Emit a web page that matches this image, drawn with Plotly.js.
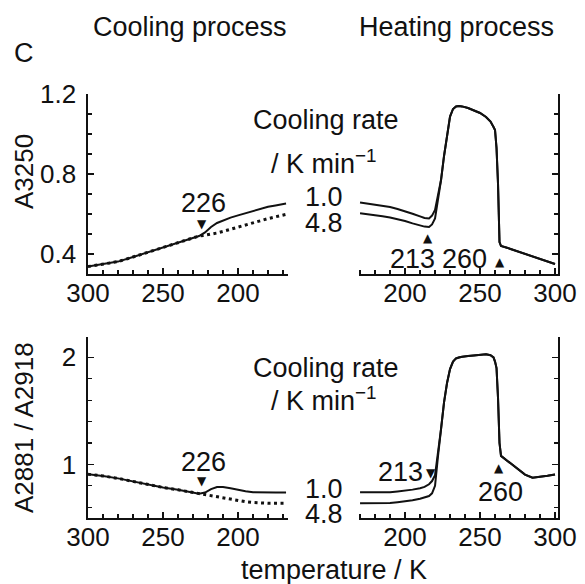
<!DOCTYPE html>
<html>
<head>
<meta charset="utf-8">
<script src="https://cdn.plot.ly/plotly-3.0.1.min.js"></script>
<style>
html,body{margin:0;padding:0;background:#fff;}
#chart{width:585px;height:584px;}
</style>
</head>
<body>
<div id="chart"></div>
<script>
// ---- Data ----
// Cooling process temperatures (K)
const tempCool = [300, 290, 280, 270, 260, 250, 240, 235, 230, 226, 222, 218, 214, 210, 205, 200, 195, 190, 185, 180, 175, 170, 168];
// A3250 during cooling
const a3250Cool_1_0 = [0.337, 0.348, 0.362, 0.385, 0.408, 0.433, 0.457, 0.468, 0.478, 0.490, 0.508, 0.535, 0.555, 0.568, 0.582, 0.593, 0.604, 0.614, 0.625, 0.636, 0.643, 0.649, 0.652];
const a3250Cool_4_8 = [0.337, 0.348, 0.362, 0.385, 0.408, 0.433, 0.457, 0.468, 0.478, 0.490, 0.494, 0.498, 0.505, 0.513, 0.524, 0.535, 0.546, 0.556, 0.566, 0.577, 0.586, 0.595, 0.598];
// A2881/A2918 during cooling
const ratioCool_1_0 = [0.908, 0.893, 0.870, 0.840, 0.810, 0.785, 0.763, 0.750, 0.738, 0.727, 0.738, 0.770, 0.790, 0.790, 0.778, 0.762, 0.750, 0.740, 0.737, 0.737, 0.737, 0.737, 0.737];
const ratioCool_4_8 = [0.908, 0.893, 0.870, 0.840, 0.810, 0.785, 0.763, 0.750, 0.738, 0.727, 0.718, 0.709, 0.698, 0.688, 0.674, 0.663, 0.652, 0.645, 0.640, 0.637, 0.637, 0.637, 0.637];

// Heating process temperatures (K)
const tempHeat = [170, 175, 180, 185, 190, 195, 200, 205, 210, 213, 216, 218, 220, 222, 224, 226, 228, 230, 232, 234, 236, 238, 242, 246, 250, 254, 257, 259, 260, 261, 262, 263, 264, 268, 272, 276, 280, 285, 290, 295, 300];
// A3250 during heating
const a3250Heat_1_0 = [0.657, 0.652, 0.648, 0.643, 0.635, 0.625, 0.614, 0.601, 0.588, 0.580, 0.578, 0.592, 0.620, 0.690, 0.770, 0.890, 0.995, 1.087, 1.125, 1.138, 1.140, 1.138, 1.130, 1.118, 1.105, 1.085, 1.062, 1.035, 1.020, 0.930, 0.750, 0.460, 0.440, 0.431, 0.421, 0.411, 0.401, 0.388, 0.376, 0.363, 0.350];
const a3250Heat_4_8 = [0.604, 0.600, 0.595, 0.589, 0.582, 0.574, 0.565, 0.553, 0.542, 0.537, 0.535, 0.548, 0.578, 0.670, 0.770, 0.890, 0.995, 1.087, 1.125, 1.138, 1.140, 1.138, 1.130, 1.118, 1.105, 1.085, 1.062, 1.035, 1.020, 0.930, 0.750, 0.460, 0.440, 0.431, 0.421, 0.411, 0.401, 0.388, 0.376, 0.363, 0.350];
// A2881/A2918 during heating
const ratioHeat_1_0 = [0.740, 0.740, 0.740, 0.740, 0.741, 0.748, 0.755, 0.765, 0.778, 0.790, 0.815, 0.845, 0.900, 1.100, 1.330, 1.580, 1.760, 1.890, 1.960, 1.990, 2.000, 2.005, 2.012, 2.018, 2.025, 2.028, 2.020, 2.000, 1.960, 1.900, 1.620, 1.200, 1.080, 1.035, 0.993, 0.945, 0.905, 0.877, 0.884, 0.894, 0.906];
const ratioHeat_4_8 = [0.637, 0.637, 0.637, 0.637, 0.640, 0.648, 0.655, 0.665, 0.680, 0.690, 0.705, 0.730, 0.800, 1.080, 1.330, 1.580, 1.760, 1.890, 1.960, 1.990, 2.000, 2.005, 2.012, 2.018, 2.025, 2.028, 2.020, 2.000, 1.960, 1.900, 1.620, 1.200, 1.080, 1.035, 0.993, 0.945, 0.905, 0.877, 0.884, 0.894, 0.906];

// Tick labels
const tempTicks = [200, 250, 300];
const a3250Ticks = [0.4, 0.8, 1.2];
const ratioTicks = [1, 2];

// ---- Layout helpers ----
const W = 585, H = 584;
const px = x => x / W;
const py = y => 1 - y / H;
const ink = '#111111';
const FONT = 'Liberation Sans, Arial, Helvetica, sans-serif';

const solid = {color: ink, width: 2};
const dotted = {color: ink, width: 3, dash: '3px,3.5px'};

const traces = [
  {x: tempCool, y: a3250Cool_1_0, xaxis: 'x', yaxis: 'y', mode: 'lines', line: solid, name: '1.0'},
  {x: tempCool, y: a3250Cool_4_8, xaxis: 'x', yaxis: 'y', mode: 'lines', line: dotted, name: '4.8'},
  {x: tempHeat, y: a3250Heat_1_0, xaxis: 'x2', yaxis: 'y2', mode: 'lines', line: solid, name: '1.0'},
  {x: tempHeat, y: a3250Heat_4_8, xaxis: 'x2', yaxis: 'y2', mode: 'lines', line: solid, name: '4.8'},
  {x: tempCool, y: ratioCool_1_0, xaxis: 'x3', yaxis: 'y3', mode: 'lines', line: solid, name: '1.0'},
  {x: tempCool, y: ratioCool_4_8, xaxis: 'x3', yaxis: 'y3', mode: 'lines', line: dotted, name: '4.8'},
  {x: tempHeat, y: ratioHeat_1_0, xaxis: 'x4', yaxis: 'y4', mode: 'lines', line: solid, name: '1.0'},
  {x: tempHeat, y: ratioHeat_4_8, xaxis: 'x4', yaxis: 'y4', mode: 'lines', line: solid, name: '4.8'}
];

const tickFont = {family: FONT, size: 26, color: ink};
function xAxis(domain, range, anchor) {
  return {
    domain: domain, range: range, anchor: anchor,
    tickmode: 'array', tickvals: tempTicks, ticktext: tempTicks.map(String),
    ticks: 'inside', ticklen: 6, tickwidth: 1.5, tickcolor: ink,
    minor: {ticks: 'inside', dtick: 10, tick0: 0, ticklen: 4, tickwidth: 1.2, tickcolor: ink, showgrid: false},
    showline: true, linecolor: ink, linewidth: 1.6,
    showgrid: false, zeroline: false, tickfont: tickFont, ticklabelstandoff: -5
  };
}
function yAxis(domain, range, anchor, vals, minorStep, side, labels) {
  return {
    domain: domain, range: range, anchor: anchor, side: side,
    tickmode: 'array', tickvals: vals, ticktext: vals.map(v => String(v)),
    showticklabels: labels,
    ticks: 'inside', ticklen: 6, tickwidth: 1.5, tickcolor: ink,
    minor: {ticks: 'inside', dtick: minorStep, tick0: 0, ticklen: 4, tickwidth: 1.2, tickcolor: ink, showgrid: false},
    showline: true, linecolor: ink, linewidth: 1.6,
    showgrid: false, zeroline: false, tickfont: tickFont, ticklabelstandoff: 5
  };
}

const xL = [px(88), px(288)], xR = [px(359), px(558)];
const yT = [py(274), py(94)], yB = [py(518), py(337)];

const textFont = {family: FONT, size: 27, color: ink};
const triFont = {family: 'DejaVu Sans', size: 12, color: ink};
function note(text, x, y, font, angle) {
  const a = {text: text, x: px(x), y: py(y), xref: 'paper', yref: 'paper', xanchor: 'center', yanchor: 'middle', showarrow: false, font: font || textFont};
  if (angle) a.textangle = angle;
  return a;
}

const annotations = [
  note('A3250', 24, 172, {family: FONT, size: 26, color: ink}, -90),
  note('A2881 / A2918', 24, 428, {family: FONT, size: 26, color: ink}, -90),
  note('Cooling process', 190, 27),
  note('Heating process', 456, 27),
  note('C', 24, 53),
  note('Cooling rate', 326, 120),
  note('/ K min<sup>−1</sup>', 324, 162),
  note('1.0', 324, 197),
  note('4.8', 324, 223),
  note('Cooling rate', 326, 368),
  note('/ K min<sup>−1</sup>', 324, 399),
  note('1.0', 324, 489),
  note('4.8', 324, 514),
  note('226', 203, 203),
  note('▼', 202, 224, triFont),
  note('213', 412, 259),
  note('▲', 428, 238, triFont),
  note('260', 464, 259),
  note('▲', 500, 262, triFont),
  note('226', 203, 462),
  note('▼', 202, 481, triFont),
  note('213', 400, 472),
  note('▼', 431, 473, triFont),
  note('260', 500, 492),
  note('▲', 499, 468, triFont),
  note('temperature / K', 334, 570)
];

const layout = {
  width: W, height: H,
  margin: {l: 0, r: 0, t: 0, b: 0},
  paper_bgcolor: '#ffffff', plot_bgcolor: 'rgba(0,0,0,0)',
  showlegend: false,
  font: {family: FONT, color: ink},
  xaxis: xAxis(xL, [300, 166.7], 'y'),
  yaxis: yAxis(yT, [0.3, 1.2], 'x', a3250Ticks, 0.1, 'left', true),
  xaxis2: xAxis(xR, [169.3, 302], 'y2'),
  yaxis2: yAxis(yT, [0.3, 1.2], 'x2', a3250Ticks, 0.1, 'right', false),
  xaxis3: xAxis(xL, [300, 166.7], 'y3'),
  yaxis3: yAxis(yB, [0.5, 2.19], 'x3', ratioTicks, 0.2, 'left', true),
  xaxis4: xAxis(xR, [169.3, 302], 'y4'),
  yaxis4: yAxis(yB, [0.5, 2.19], 'x4', ratioTicks, 0.2, 'right', false),
  annotations: annotations
};

Plotly.newPlot('chart', traces, layout, {displayModeBar: false, staticPlot: true});
</script>
</body>
</html>
